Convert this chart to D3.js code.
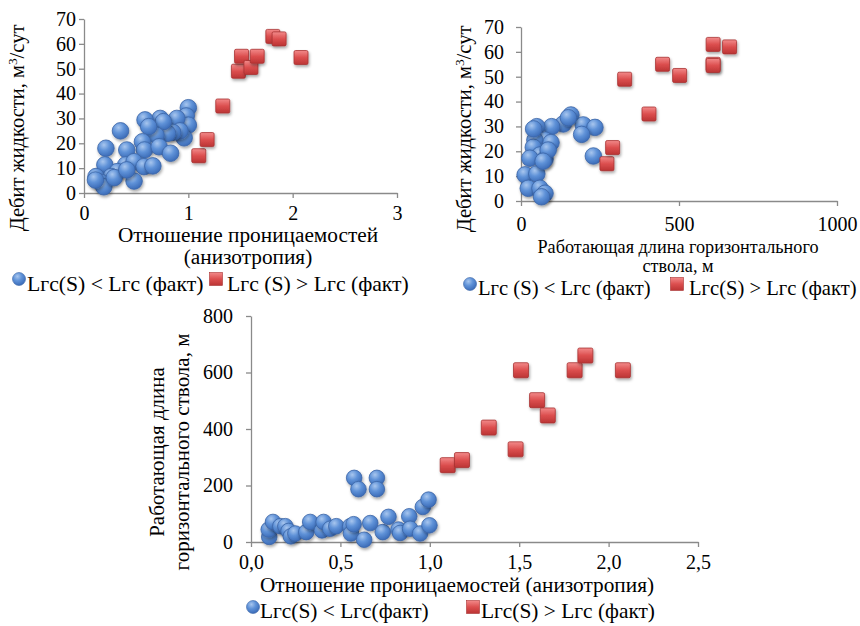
<!DOCTYPE html>
<html>
<head>
<meta charset="utf-8">
<script src="https://cdn.jsdelivr.net/npm/d3@7"></script>
<style>
  body { margin: 0; background: #fff; }
  svg text { font-family: "Liberation Serif", "Times New Roman", serif; fill: #000; }
</style>
</head>
<body>
<svg width="860" height="626"></svg>
<script>
// red series - same wells on all three charts
var redAniso  = [1.10, 1.18, 1.33, 1.48, 1.51, 1.60, 1.66, 1.81, 1.87, 2.08];
var redRate   = [15, 21.5, 35, 49, 55, 50.5, 55, 63, 62, 54.5];
var redLength = [272, 290, 405, 328, 608, 502, 448, 608, 660, 608];

// blue series, chart 1 (anisotropy vs rate)
var blueAnisoA = [1.00, 0.98, 1.00, 0.96, 0.89, 0.92, 0.85, 0.80, 0.73, 0.76, 0.69, 0.585, 0.62, 0.56, 0.58, 0.72, 0.83,
                  0.35, 0.21, 0.41, 0.20, 0.40, 0.48, 0.575, 0.66, 0.48, 0.32, 0.26, 0.115, 0.16, 0.19, 0.29, 0.41, 0.11];
var blueRateA  = [34.3, 31, 27.3, 22.2, 30, 25, 24.4, 24, 30, 28.7, 23.3, 29.4, 26.7, 20.6, 17.3, 18.6, 16,
                  25, 18, 17.3, 11.3, 11.3, 12.6, 10.6, 10.9, 4.8, 8.6, 6.6, 6.6, 4.3, 2.5, 6.2, 9.3, 5.2];

// blue series, chart 2 (length vs rate)
var blueLengthB = [158, 134, 97, 50, 197, 234, 192, 76, 44, 95, 39, 60, 28, 76, 229, 13, 50, 23, 60, 76, 65, 86, 150, 40, 70];
var blueRateB   = [34.6, 31, 29.9, 29.9, 30.6, 29.6, 26.8, 24.5, 24.5, 23.5, 21.6, 18.5, 17.2, 16.8, 18.1, 10.5, 10.9,
                   5.1, 5.1, 3.1, 1.7, 20.5, 33.5, 29, 16];

// blue series, chart 3 (anisotropy vs length)
var blueAnisoC  = [0.102, 0.099, 0.123, 0.164, 0.192, 0.21, 0.223, 0.248, 0.309, 0.331, 0.397, 0.406, 0.443, 0.477,
                   0.555, 0.559, 0.574, 0.577, 0.601, 0.633, 0.667, 0.704, 0.704, 0.737, 0.769, 0.825, 0.834, 0.885,
                   0.89, 0.946, 0.961, 0.993, 0.998];
var blueLengthC = [18, 44, 71, 56, 56, 39, 20, 30, 35, 71, 41, 71, 47, 56, 56, 30, 63, 227, 187, 8, 67, 227, 187, 35,
                   89, 44, 32, 91, 47, 30, 124, 150, 59];

var ticksA = {x: [0, 1, 2, 3], y: [0, 10, 20, 30, 40, 50, 60, 70]};
var ticksB = {x: [0, 500, 1000], y: [0, 10, 20, 30, 40, 50, 60, 70]};
var ticksC = {x: [0, 0.5, 1, 1.5, 2, 2.5], y: [0, 200, 400, 600, 800]};

var legendA = ["Lгс(S) < Lгс (факт)", "Lгс (S) > Lгс (факт)"];
var legendB = ["Lгс (S) < Lгс (факт)", "Lгс(S) > Lгс (факт)"];
var legendC = ["Lгс(S) < Lгс(факт)", "Lгс(S) > Lгс (факт)"];

var svg = d3.select("svg");
var defs = svg.append("defs");

var bg = defs.append("radialGradient").attr("id", "blueGrad")
    .attr("cx", "38%").attr("cy", "30%").attr("r", "75%");
bg.append("stop").attr("offset", "0%").attr("stop-color", "#a8c6ee");
bg.append("stop").attr("offset", "45%").attr("stop-color", "#5f92d8");
bg.append("stop").attr("offset", "100%").attr("stop-color", "#3767b4");

var rg = defs.append("linearGradient").attr("id", "redGrad")
    .attr("x1", 0).attr("y1", 0).attr("x2", 0).attr("y2", 1);
rg.append("stop").attr("offset", "0%").attr("stop-color", "#f28a8a");
rg.append("stop").attr("offset", "50%").attr("stop-color", "#dc4f4f");
rg.append("stop").attr("offset", "100%").attr("stop-color", "#bb3434");

var sh = defs.append("filter").attr("id", "shadow")
    .attr("x", "-50%").attr("y", "-50%").attr("width", "200%").attr("height", "200%");
sh.append("feDropShadow").attr("dx", 1).attr("dy", 2).attr("stdDeviation", 1.5)
    .attr("flood-color", "#000").attr("flood-opacity", 0.35);

var commaFmt = d3.formatLocale({decimal: ",", thousands: " ", grouping: [3], currency: ["", ""]}).format(".1f");

function drawChart(o) {
    var g = svg.append("g");
    var x = d3.scaleLinear().domain(o.xDomain).range(o.xRange);
    var y = d3.scaleLinear().domain(o.yDomain).range(o.yRange);

    var xAxis = d3.axisBottom(x).tickValues(o.ticks.x).tickSize(5).tickSizeOuter(0)
        .tickPadding(o.xPad).tickFormat(o.xFormat || d3.format("d"));
    var yAxis = d3.axisLeft(y).tickValues(o.ticks.y).tickSize(5).tickSizeOuter(0)
        .tickPadding(o.yPad).tickFormat(d3.format("d"));

    [g.append("g").attr("transform", "translate(0," + o.yRange[0] + ")").call(xAxis),
     g.append("g").attr("transform", "translate(" + o.xRange[0] + ",0)").call(yAxis)]
        .forEach(function (a) {
            a.attr("font-family", null).attr("font-size", o.tickFont);
            a.select(".domain").attr("stroke", "#8a8a8a").attr("stroke-width", 1.3);
            a.selectAll(".tick line").attr("stroke", "#8a8a8a").attr("stroke-width", 1.3);
        });

    // blue circles
    g.append("g").selectAll("circle")
        .data(o.blueX.map(function (d, i) { return [d, o.blueY[i]]; }))
        .enter().append("circle")
        .attr("cx", function (d) { return x(d[0]); })
        .attr("cy", function (d) { return y(d[1]); })
        .attr("r", o.r)
        .attr("fill", "url(#blueGrad)")
        .attr("stroke", "#3b65a6")
        .attr("stroke-width", 0.8)
        .attr("filter", "url(#shadow)");

    // red squares
    g.append("g").selectAll("rect")
        .data(o.redX.map(function (d, i) { return [d, o.redY[i]]; }))
        .enter().append("rect")
        .attr("x", function (d) { return x(d[0]) - o.s / 2; })
        .attr("y", function (d) { return y(d[1]) - o.s / 2; })
        .attr("width", o.s).attr("height", o.s)
        .attr("rx", 1.5)
        .attr("fill", "url(#redGrad)")
        .attr("stroke", "#a83232")
        .attr("stroke-width", 0.8)
        .attr("filter", "url(#shadow)");

    // y title
    var yt = g.append("text")
        .attr("transform", "translate(" + o.yTitlePos[0] + "," + o.yTitlePos[1] + ") rotate(-90)")
        .attr("text-anchor", "middle")
        .attr("font-size", o.yTitleFont);
    o.yTitle.forEach(function (line, i) {
        var t = yt.append("tspan").attr("x", 0).attr("dy", i === 0 ? 0 : o.yTitleFont * 1.2);
        if (line.indexOf("м3") >= 0) {
            var parts = line.split("м3");
            t.text(parts[0] + "м");
            yt.append("tspan").attr("dy", -7).attr("font-size", o.yTitleFont * 0.65).text("3");
            yt.append("tspan").attr("dy", 7).text(parts[1]);
        } else {
            t.text(line);
        }
    });

    // x title
    o.xTitle.forEach(function (line, i) {
        g.append("text")
            .attr("x", o.xTitlePos[0])
            .attr("y", o.xTitlePos[1] + i * o.xTitleFont * 1.05)
            .attr("text-anchor", "middle")
            .attr("font-size", o.xTitleFont)
            .text(line);
    });

    // legend
    var lg = g.append("g").attr("transform", "translate(0," + o.legendY + ")");
    lg.append("circle").attr("cx", o.legendX[0]).attr("cy", -5).attr("r", 6.5)
        .attr("fill", "url(#blueGrad)").attr("stroke", "#3b65a6").attr("stroke-width", 0.6);
    lg.append("text").attr("x", o.legendTextX[0]).attr("y", 0).attr("dy", "0.3em")
        .attr("font-size", o.legendFont).text(o.legend[0]);
    lg.append("rect").attr("x", o.legendX[1] - 6.5).attr("y", -11.5).attr("width", 13).attr("height", 13)
        .attr("fill", "url(#redGrad)").attr("stroke", "#a83232").attr("stroke-width", 0.6);
    lg.append("text").attr("x", o.legendTextX[1]).attr("y", 0).attr("dy", "0.3em")
        .attr("font-size", o.legendFont).text(o.legend[1]);
}

drawChart({
    xDomain: [0, 3], yDomain: [0, 70], xRange: [84, 397], yRange: [193, 19],
    ticks: ticksA, xPad: 8, yPad: 3, tickFont: 20,
    blueX: blueAnisoA, blueY: blueRateA, redX: redAniso, redY: redRate, r: 8.3, s: 14,
    yTitle: ["Дебит жидкости, м3/сут"], yTitlePos: [24, 128], yTitleFont: 20.5,
    xTitle: ["Отношение проницаемостей", "(анизотропия)"], xTitlePos: [248, 242], xTitleFont: 21.3,
    legend: legendA, legendX: [19, 216], legendTextX: [27, 227], legendY: 284, legendFont: 21.7
});

drawChart({
    xDomain: [0, 1000], yDomain: [0, 70], xRange: [521, 837], yRange: [201, 27],
    ticks: ticksB, xPad: 11, yPad: 12, tickFont: 20,
    blueX: blueLengthB, blueY: blueRateB, redX: redLength, redY: redRate, r: 8.3, s: 14,
    yTitle: ["Дебит жидкости, м3/сут"], yTitlePos: [471, 129], yTitleFont: 20.5,
    xTitle: ["Работающая длина горизонтального", "ствола, м"], xTitlePos: [678, 253], xTitleFont: 18.2,
    legend: legendB, legendX: [470, 677], legendTextX: [478, 689], legendY: 289, legendFont: 20.6
});

drawChart({
    xDomain: [0, 2.5], yDomain: [0, 800], xRange: [251, 698], yRange: [542, 316],
    ticks: ticksC, xPad: 8, yPad: 13, tickFont: 20, xFormat: commaFmt,
    blueX: blueAnisoC, blueY: blueLengthC, redX: redAniso, redY: redLength, r: 7.8, s: 15,
    yTitle: ["Работающая длина", "горизонтального ствола, м"], yTitlePos: [164, 452], yTitleFont: 21,
    xTitle: ["Отношение проницаемостей (анизотропия)"], xTitlePos: [457, 592], xTitleFont: 21.3,
    legend: legendC, legendX: [253, 473], legendTextX: [260, 481], legendY: 612, legendFont: 21.4
});
</script>
</body>
</html>
